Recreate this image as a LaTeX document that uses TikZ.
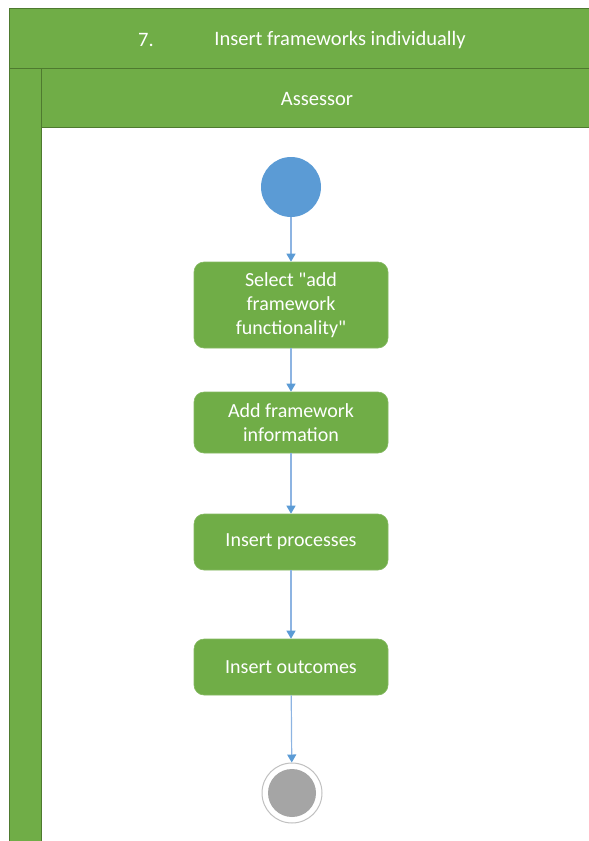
\documentclass[tikz,border=0pt]{standalone}
\usepackage{fontspec}
\setmainfont{Carlito}
\usetikzlibrary{arrows.meta}
\definecolor{lanegreen}{HTML}{70AD47}
\definecolor{laneedge}{HTML}{4E7A2F}
\definecolor{flowblue}{HTML}{5B9BD5}
\definecolor{linkblue}{HTML}{8DB4E2}
\definecolor{endgray}{HTML}{A5A5A5}
% straight double quote, set as a glyph so the TeX mapping keeps it straight
\newcommand{\dq}{\XeTeXglyph\XeTeXcharglyph"22\relax}
\tikzset{
  lane/.style={fill=lanegreen, draw=laneedge, line width=1pt},
  action/.style={fill=lanegreen, draw=lanegreen!85!white, line width=0.6pt, rounded corners=10pt,
    minimum width=194pt, align=center, text=white, font=\fontsize{20}{24}\selectfont},
  flow/.style={draw=linkblue, line width=1.2pt, -{Triangle[length=8pt,width=9pt,color=flowblue]}},
  headtext/.style={text=white, font=\fontsize{20.5}{24}\selectfont}
}
\begin{document}
\begin{tikzpicture}[x=1pt,y=-1pt]
  \useasboundingbox (0,0) rectangle (589,841);
  % swimlane frame
  \path[lane] (9,8) rectangle (592,68);
  \path[lane] (9,68) rectangle (41,844);
  \path[lane] (41,68) rectangle (592,127);
  \node[headtext] (num) at (146,40) {7.};
  \node[headtext] (title) at (340,40) {Insert frameworks individually};
  \node[headtext] (role) at (317,99) {Assessor};
  % activity flow
  \node[circle, fill=flowblue, minimum size=60pt, inner sep=0pt] (start) at (291,187) {};
  \node[action, minimum height=86pt] (s1) at (291,305) {Select \dq add\\framework\\functionality\dq};
  \node[action, minimum height=61pt] (s2) at (291,422.5) {Add framework\\information};
  \node[action, minimum height=56pt] (s3) at (291,542) {Insert processes};
  \node[action, minimum height=56pt] (s4) at (291,667) {Insert outcomes};
  \node[circle, draw=endgray!70, fill=white, line width=1pt, minimum size=60pt, inner sep=0pt] (stop) at (292,793) {};
  \node[circle, fill=endgray, minimum size=48pt, inner sep=0pt] (stopcore) at (stop.center) {};
  \draw[flow] (start) -- (s1);
  \draw[flow] (s1) -- (s2);
  \draw[flow] (s2) -- (s3);
  \draw[flow] (s3) -- (s4);
  \draw[flow] (s4) -- (stop);
\end{tikzpicture}
\end{document}
